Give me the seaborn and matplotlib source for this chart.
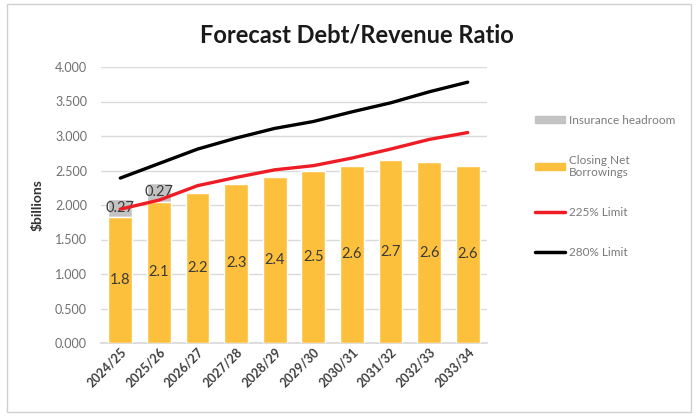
import matplotlib
matplotlib.use("Agg")
import matplotlib.pyplot as plt
import matplotlib.patches as mpatches
import matplotlib.lines as mlines
import seaborn as sns
import numpy as np
import pandas as pd

years = ["2024/25", "2025/26", "2026/27", "2027/28", "2028/29",
         "2029/30", "2030/31", "2031/32", "2032/33", "2033/34"]
closing = [1.82, 2.05, 2.18, 2.31, 2.40, 2.49, 2.57, 2.65, 2.62, 2.57]
closing_labels = ["1.8", "2.1", "2.2", "2.3", "2.4", "2.5", "2.6", "2.7", "2.6", "2.6"]
headroom = [0.27, 0.27, 0, 0, 0, 0, 0, 0, 0, 0]
headroom_labels = ["0.27", "0.27", "", "", "", "", "", "", "", ""]
limit225 = [1.94, 2.07, 2.28, 2.40, 2.51, 2.57, 2.68, 2.81, 2.95, 3.05]
limit280 = [2.39, 2.60, 2.81, 2.97, 3.11, 3.21, 3.35, 3.48, 3.64, 3.78]
yticks = [0, 0.5, 1.0, 1.5, 2.0, 2.5, 3.0, 3.5, 4.0]

sns.set_theme(style="white")
plt.rcParams['font.family'] = ['Lato', 'DejaVu Sans']

ORANGE = "#FDC03C"
GREY = "#C3C3C3"
RED = "#EE1C25"

df = pd.DataFrame({"year": years, "closing": closing, "headroom": headroom})
df["total"] = df["closing"] + df["headroom"]

fig = plt.figure(figsize=(6.96, 4.16), dpi=100)
ax = fig.add_axes([101/696, 1-343/416, (487-101)/696, (343-67)/416])

sns.barplot(data=df, x="year", y="total", color=GREY, width=0.62,
            saturation=1, ax=ax, zorder=2)
sns.barplot(data=df, x="year", y="closing", color=ORANGE, width=0.62,
            saturation=1, ax=ax, zorder=3)

grey_bars = ax.containers[0]
orange_bars = ax.containers[1]
# make grey bars only show the headroom segment on top
for rect, c in zip(grey_bars, closing):
    h = rect.get_height()
    rect.set_y(c)
    rect.set_height(h - c)

ax.bar_label(orange_bars, labels=closing_labels, label_type="center",
             fontsize=10.5, color="#3a3a3a", zorder=5)
ax.bar_label(grey_bars, labels=headroom_labels, label_type="center",
             fontsize=10.5, color="#3a3a3a", zorder=5)

sns.pointplot(x=years, y=limit225, color=RED, markers="", linestyles="-",
              ax=ax, zorder=6)
sns.pointplot(x=years, y=limit280, color="black", markers="", linestyles="-",
              ax=ax, zorder=6)
for ln in ax.lines:
    ln.set_linewidth(2.4)

ax.set_ylim(0, 4.0)
ax.set_xlim(-0.5, len(years) - 0.5)
ax.set_yticks(yticks)
ax.set_yticklabels([f"{v:.3f}" for v in yticks], fontsize=9, color="#6f6f6f")
ax.yaxis.grid(True, color="#DADADA", linewidth=1, zorder=0)
ax.set_axisbelow(True)
ax.tick_params(axis="x", labelrotation=45, labelsize=9, colors="#404040", length=0, pad=2)
ax.tick_params(axis="y", length=0, pad=10)
for lbl in ax.get_xticklabels():
    lbl.set_ha("right")
    lbl.set_rotation_mode("anchor")
    lbl.set_fontweight("bold")
ax.set_xlabel("")
ax.set_ylabel("$billions", fontsize=10, fontweight="bold", color="#333333", labelpad=8)
for s in ["top", "right", "left"]:
    ax.spines[s].set_visible(False)
ax.spines["bottom"].set_color("#D9D9D9")

fig.text(357/696, 1-35/416, "Forecast Debt/Revenue Ratio", ha="center", va="center",
         fontsize=17, fontweight="bold", color="#1a1a1a")

handles = [mpatches.Patch(color=GREY),
           mpatches.Patch(color=ORANGE),
           mlines.Line2D([], [], color=RED, linewidth=2.5),
           mlines.Line2D([], [], color="black", linewidth=2.5)]
labels = ["Insurance headroom", "Closing Net\nBorrowings", "225% Limit", "280% Limit"]
leg = fig.legend(handles, labels, loc="upper left", bbox_to_anchor=(524/696, 1-104/416),
                 frameon=False, fontsize=8.5, labelspacing=2.45, handlelength=2.6,
                 handleheight=0.5, handletextpad=0.3, labelcolor="#7a7a7a")

# outer border
fig.patches.append(mpatches.Rectangle((7/696, 4/416), 684/696, 408/416, transform=fig.transFigure,
                                      fill=False, edgecolor="#D0D0D0", linewidth=1))

fig.savefig("out.png", dpi=100)
